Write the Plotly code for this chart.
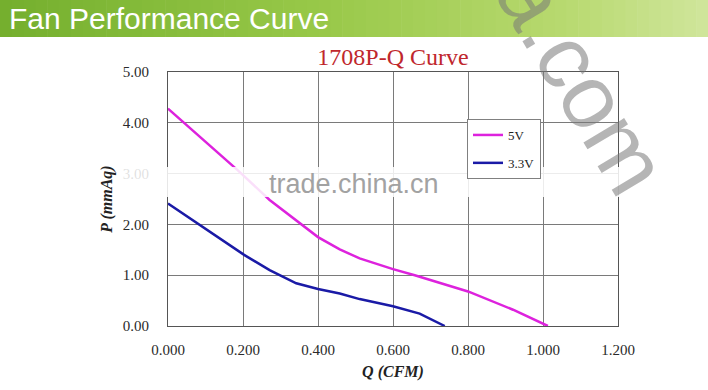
import plotly.graph_objects as go

# ---- data ----
q_5v = [0.000, 0.093, 0.187, 0.271, 0.400, 0.458, 0.511, 0.600, 0.658, 0.800, 0.920, 1.013]
p_5v = [4.28, 3.67, 3.06, 2.48, 1.75, 1.51, 1.33, 1.12, 1.00, 0.68, 0.32, 0.00]

q_33v = [0.000, 0.093, 0.203, 0.271, 0.342, 0.400, 0.458, 0.511, 0.600, 0.671, 0.738]
p_33v = [2.41, 1.95, 1.40, 1.10, 0.84, 0.73, 0.64, 0.53, 0.39, 0.245, 0.00]

x_tick_vals = [0.0, 0.2, 0.4, 0.6, 0.8, 1.0, 1.2]
x_tick_text = ["0.000", "0.200", "0.400", "0.600", "0.800", "1.000", "1.200"]
y_tick_vals = [0, 1, 2, 3, 4, 5]
y_tick_text = ["0.00", "1.00", "2.00", "3.00", "4.00", "5.00"]

# ---- layout geometry (pixels) ----
W, H = 708, 390
L, R, T, B = 168, 618, 72, 326
PW, PH = R - L, B - T


def xp(px):
    return (px - L) / PW


def yp(py):
    return (B - py) / PH


SERIF = "Liberation Serif, Times New Roman, serif"
SANS = "Liberation Sans, Arial, sans-serif"

fig = go.Figure()
fig.add_trace(go.Scatter(x=q_5v, y=p_5v, mode="lines", name="5V", legendgroup="g5",
                         line=dict(color="#dd22dd", width=2.5)))
fig.add_trace(go.Scatter(x=q_33v, y=p_33v, mode="lines", name="3.3V", legendgroup="g33",
                         line=dict(color="#1a1aa6", width=2.5)))

shapes = []
# green gradient banner built from thin strips
stops = [(0.0, (116, 175, 46)), (0.45, (152, 200, 72)), (0.8, (184, 217, 112)), (1.0, (208, 230, 156))]


def col_at(t):
    for (t0, c0), (t1, c1) in zip(stops[:-1], stops[1:]):
        if t0 <= t <= t1:
            f = (t - t0) / (t1 - t0)
            return "rgb(%d,%d,%d)" % tuple(round(a + (b - a) * f) for a, b in zip(c0, c1))
    return "rgb(%d,%d,%d)" % stops[-1][1]


N = 60
for i in range(N):
    x0 = W * i / N
    x1 = W * (i + 1) / N + 0.6
    shapes.append(dict(type="rect", xref="paper", yref="paper", layer="above",
                       x0=xp(x0), x1=xp(x1), y0=yp(37), y1=yp(0),
                       fillcolor=col_at((i + 0.5) / N), line=dict(width=0)))
# white blurred band of the watermark
shapes.append(dict(type="rect", xref="paper", yref="paper", layer="above",
                   x0=xp(98), x1=xp(655), y0=yp(197), y1=yp(167),
                   fillcolor="rgba(255,255,255,0.86)", line=dict(width=0)))

annotations = [
    dict(text="Fan Performance Curve", xref="paper", yref="paper",
         x=xp(7), y=yp(19), xanchor="left", yanchor="middle", showarrow=False,
         font=dict(family=SANS, size=30, color="white")),
    dict(text="trade.china.cn", xref="paper", yref="paper",
         x=xp(354), y=yp(184), xanchor="center", yanchor="middle", showarrow=False,
         font=dict(family=SANS, size=27, color="#a2a2a2")),
    dict(text="a.com", xref="paper", yref="paper",
         x=xp(582), y=yp(80), xanchor="center", yanchor="middle", showarrow=False,
         textangle=59,
         font=dict(family=SANS, size=90, color="rgba(120,120,120,0.55)")),
]

fig.update_layout(
    width=W, height=H,
    margin=dict(l=L, r=W - R, t=T, b=H - B, pad=0),
    paper_bgcolor="white", plot_bgcolor="white",
    title=dict(text="1708P-Q Curve", x=0.5, xref="paper", xanchor="center",
               y=1 - 57 / H, yref="container", yanchor="middle",
               font=dict(family=SERIF, size=24, color="#c0272d")),
    xaxis=dict(range=[0, 1.2], tickvals=x_tick_vals, ticktext=x_tick_text,
               showgrid=True, gridcolor="#7a7a7a", gridwidth=1, zeroline=False,
               showline=True, linecolor="#555555", linewidth=1, mirror=True,
               ticks="", ticklabelstandoff=10,
               tickfont=dict(family=SERIF, size=15, color="#2a2a2a"),
               title=dict(text="Q (CFM)", standoff=8,
                          font=dict(family=SERIF, size=16, color="#222222",
                                    style="italic", weight="bold"))),
    yaxis=dict(range=[0, 5], tickvals=y_tick_vals, ticktext=y_tick_text,
               showgrid=True, gridcolor="#7a7a7a", gridwidth=1, zeroline=False,
               showline=True, linecolor="#555555", linewidth=1, mirror=True,
               ticks="", ticklabelstandoff=15,
               tickfont=dict(family=SERIF, size=15, color="#2a2a2a"),
               title=dict(text="P (mmAq)", standoff=6,
                          font=dict(family=SERIF, size=16, color="#222222",
                                    style="italic", weight="bold"))),
    legend=dict(x=xp(467), y=yp(119), xanchor="left", yanchor="top",
                bgcolor="white", bordercolor="#808080", borderwidth=1,
                font=dict(family=SERIF, size=13, color="#222222"),
                itemwidth=30, traceorder="grouped", tracegroupgap=8),
    shapes=shapes,
    annotations=annotations,
)

fig.write_html("out.html", config={"displayModeBar": False},
               post_script="document.body.style.margin='0';document.body.style.overflow='hidden';")
